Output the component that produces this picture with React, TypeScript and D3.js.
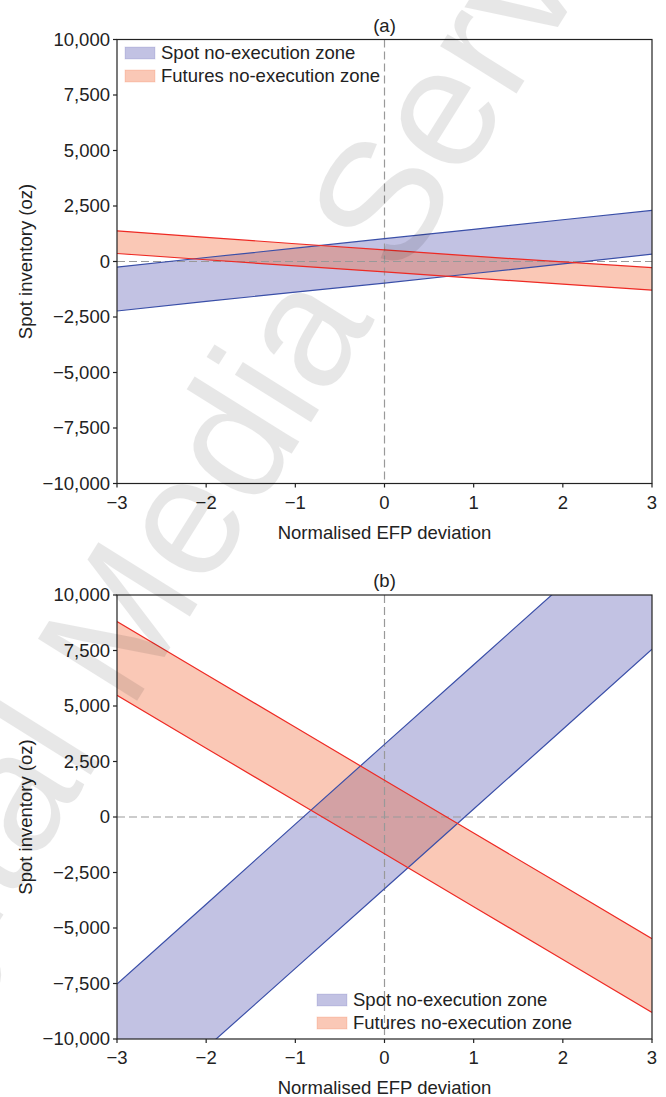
import React from "react";
import * as d3 from "d3";

const xs = [-3, -2, -1, 0, 1, 2, 3];
const xTicks = [-3, -2, -1, 0, 1, 2, 3];
const yTicks = [-10000, -7500, -5000, -2500, 0, 2500, 5000, 7500, 10000];

// Panel (a)
const spotUpperA = [-250, 180, 600, 1030, 1450, 1880, 2300];
const spotLowerA = [-2230, -1800, -1380, -970, -540, -110, 330];
const futUpperA = [1380, 1090, 800, 520, 240, -20, -280];
const futLowerA = [360, 80, -200, -470, -750, -1020, -1290];

// Panel (b)
const spotUpperB = [-7520, -3930, -320, 3270, 6860, 10450, 14040];
const spotLowerB = [-14000, -10400, -6820, -3230, 360, 3950, 7560];
const futUpperB = [8800, 6420, 4040, 1660, -720, -3100, -5480];
const futLowerB = [5480, 3100, 720, -1660, -4040, -6420, -8800];

const legendLabels = ["Spot no-execution zone", "Futures no-execution zone"];

const W = 666;
const H = 1097;
const LEFT = 117;
const RIGHT = 652;
const FONT = "'Liberation Sans', Arial, Helvetica, sans-serif";
const FS = 18.5;

const BLUE_FILL = "rgba(70,70,170,0.33)";
const RED_FILL = "rgba(241,102,52,0.36)";
const BLUE_LINE = "#3a4fa8";
const RED_LINE = "#ee2a24";

const fmtY = d3.format(",");
const fmtX = d3.format("d");

type PanelProps = {
  id: string;
  title: string;
  top: number;
  bottom: number;
  spotU: number[];
  spotL: number[];
  futU: number[];
  futL: number[];
  legendX: number;
  legendY: number;
};

function Panel(p: PanelProps) {
  const x = d3.scaleLinear().domain([-3, 3]).range([LEFT, RIGHT]);
  const y = d3.scaleLinear().domain([-10000, 10000]).range([p.bottom, p.top]);
  const idx = xs.map((_, i) => i);
  const area = (u: number[], l: number[]) =>
    d3
      .area<number>()
      .x((i) => x(xs[i]))
      .y0((i) => y(l[i]))
      .y1((i) => y(u[i]))(idx) || "";
  const line = (v: number[]) =>
    d3
      .line<number>()
      .x((i) => x(xs[i]))
      .y((i) => y(v[i]))(idx) || "";
  const clipId = "clip-" + p.id;
  const midY = (p.top + p.bottom) / 2;
  return (
    <g>
      <defs>
        <clipPath id={clipId}>
          <rect x={LEFT} y={p.top} width={RIGHT - LEFT} height={p.bottom - p.top} />
        </clipPath>
      </defs>
      <text x={x(0)} y={p.top - 8} textAnchor="middle" fontSize={FS} fontFamily={FONT} fill="#222">
        {p.title}
      </text>
      <g clipPath={`url(#${clipId})`}>
        <path d={area(p.spotU, p.spotL)} fill={BLUE_FILL} />
        <path d={area(p.futU, p.futL)} fill={RED_FILL} />
        <line x1={LEFT} x2={RIGHT} y1={y(0)} y2={y(0)} stroke="#999" strokeWidth={1.2} strokeDasharray="8,4" />
        <line x1={x(0)} x2={x(0)} y1={p.top} y2={p.bottom} stroke="#999" strokeWidth={1.2} strokeDasharray="8,4" />
        <path d={line(p.spotU)} fill="none" stroke={BLUE_LINE} strokeWidth={1.2} />
        <path d={line(p.spotL)} fill="none" stroke={BLUE_LINE} strokeWidth={1.2} />
        <path d={line(p.futU)} fill="none" stroke={RED_LINE} strokeWidth={1.2} />
        <path d={line(p.futL)} fill="none" stroke={RED_LINE} strokeWidth={1.2} />
      </g>
      <rect x={LEFT} y={p.top} width={RIGHT - LEFT} height={p.bottom - p.top} fill="none" stroke="#222" strokeWidth={1.2} />
      {yTicks.map((t) => (
        <g key={"y" + t}>
          <line x1={LEFT - 4} x2={LEFT} y1={y(t)} y2={y(t)} stroke="#222" strokeWidth={1.2} />
          <text x={LEFT - 7} y={y(t)} dy="0.35em" textAnchor="end" fontSize={FS} fontFamily={FONT} fill="#222">
            {fmtY(t)}
          </text>
        </g>
      ))}
      {xTicks.map((t) => (
        <g key={"x" + t}>
          <line x1={x(t)} x2={x(t)} y1={p.bottom} y2={p.bottom + 4} stroke="#222" strokeWidth={1.2} />
          <text x={x(t)} y={p.bottom + 25} textAnchor="middle" fontSize={FS} fontFamily={FONT} fill="#222">
            {fmtX(t)}
          </text>
        </g>
      ))}
      <text x={x(0)} y={p.bottom + 55} textAnchor="middle" fontSize={FS} fontFamily={FONT} fill="#222">
        Normalised EFP deviation
      </text>
      <text
        transform={`translate(32,${midY}) rotate(-90)`}
        textAnchor="middle"
        fontSize={FS}
        fontFamily={FONT}
        fill="#222"
      >
        Spot inventory (oz)
      </text>
      {legendLabels.map((lab, i) => (
        <g key={lab} transform={`translate(${p.legendX},${p.legendY + i * 23})`}>
          <rect x={0} y={-6} width={30} height={12} fill={i === 0 ? BLUE_FILL : RED_FILL} stroke={i === 0 ? "rgba(70,70,170,0.15)" : "rgba(241,102,52,0.2)"} />
          <text x={36} y={0} dy="0.35em" fontSize={FS} fontFamily={FONT} fill="#222">
            {lab}
          </text>
        </g>
      ))}
    </g>
  );
}

export default function App() {
  return (
    <svg
      width={W}
      height={H}
      viewBox={`0 0 ${W} ${H}`}
      style={{ position: "absolute", left: 0, top: 0, background: "#fff" }}
    >
      <rect width={W} height={H} fill="#fff" />
      <Panel id="a" title="(a)" top={39.5} bottom={483.5} spotU={spotUpperA} spotL={spotLowerA} futU={futUpperA} futL={futLowerA} legendX={125} legendY={53} />
      <Panel id="b" title="(b)" top={595} bottom={1039} spotU={spotUpperB} spotL={spotLowerB} futU={futUpperB} futL={futLowerB} legendX={317} legendY={1000} />
      <text
        transform="translate(300,440) rotate(-58)"
        textAnchor="middle"
        fontSize={170}
        fontFamily={FONT}
        fill="#000"
        opacity={0.09}
      >
        Digital Media Services
      </text>
    </svg>
  );
}
